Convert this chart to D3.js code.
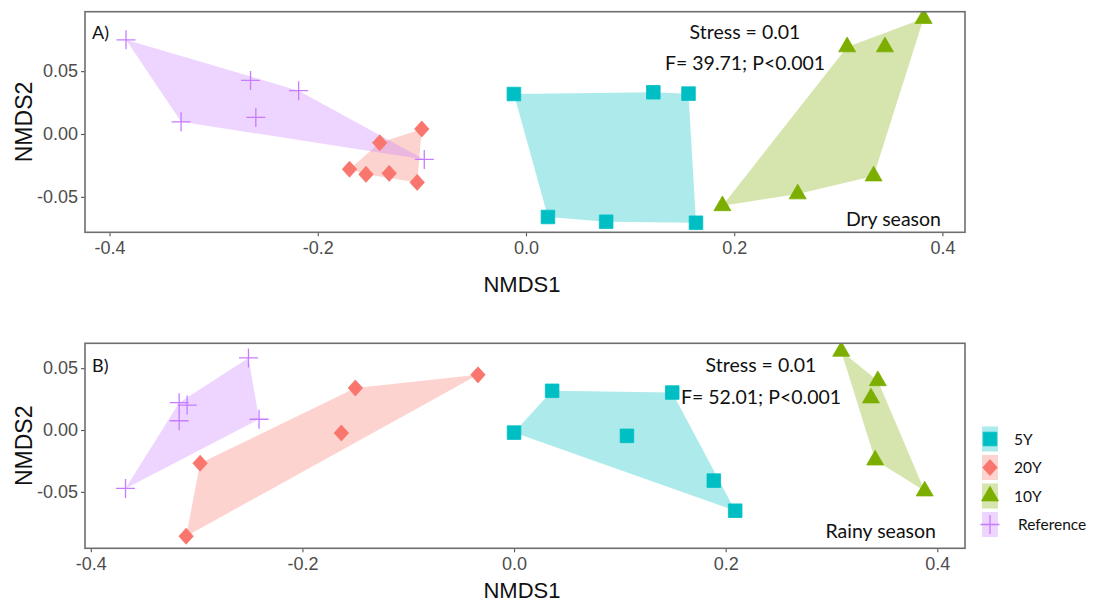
<!DOCTYPE html>
<html>
<head>
<meta charset="utf-8">
<script src="https://cdn.jsdelivr.net/npm/d3@7"></script>
<style>
  body { margin: 0; background: #fff; }
  svg { display: block; }
</style>
</head>
<body>
<svg id="chart" width="1094" height="604"></svg>
<script>
// ---- data -------------------------------------------------------------
const groups = ["5Y", "20Y", "10Y", "Reference"];
const groupColors = ["#00BFC4", "#F8766D", "#7CAE00", "#C77CFF"];
const xTicks = [-0.4, -0.2, 0.0, 0.2, 0.4];
const yTicks = [-0.05, 0.00, 0.05];

// Dry season NMDS scores [NMDS1, NMDS2]
const dry5Y  = [[-0.0116, 0.0318], [0.1223, 0.0332], [0.1561, 0.0321], [0.0211, -0.0660], [0.0770, -0.0698], [0.1633, -0.0706]];
const dry20Y = [[-0.1695, -0.0280], [-0.1537, -0.0321], [-0.1405, -0.0070], [-0.1314, -0.0313], [-0.1045, -0.0385], [-0.1001, 0.0040]];
const dry10Y = [[0.3819, 0.0919], [0.3085, 0.0693], [0.3448, 0.0693], [0.3339, -0.0334], [0.2610, -0.0477], [0.1887, -0.0571]];
const dryRef = [[-0.3842, 0.0749], [-0.3313, 0.0097], [-0.2646, 0.0426], [-0.2595, 0.0132], [-0.2184, 0.0345], [-0.0977, -0.0202]];

// Rainy season NMDS scores [NMDS1, NMDS2]
const rainy5Y  = [[0.0000, -0.0021], [0.0360, 0.0317], [0.1495, 0.0303], [0.1067, -0.0047], [0.1888, -0.0409], [0.2090, -0.0652]];
const rainy20Y = [[-0.0341, 0.0446], [-0.1500, 0.0340], [-0.1632, -0.0024], [-0.2967, -0.0269], [-0.3099, -0.0858]];
const rainy10Y = [[0.3092, 0.0636], [0.3438, 0.0398], [0.3373, 0.0259], [0.3413, -0.0243], [0.3881, -0.0493]];
const rainyRef = [[-0.2510, 0.0583], [-0.3165, 0.0221], [-0.3090, 0.0202], [-0.3165, 0.0075], [-0.2410, 0.0087], [-0.3672, -0.0472]];

const panelTags    = ["A)", "B)"];
const seasonNames  = ["Dry season", "Rainy season"];
const stressTexts  = ["Stress = 0.01", "Stress = 0.01"];
const permTexts    = ["F= 39.71; P<0.001", "F= 52.01; P<0.001"];

// ---- layout -----------------------------------------------------------
const panels = [
  {
    series: [dry5Y, dry20Y, dry10Y, dryRef],
    xDomain: [-0.4236, 0.4217], yDomain: [-0.0782, 0.0973],
    left: 85, right: 965, top: 11.7, bottom: 232.3,
    tagPos: [92, 39], stressPos: [745, 39], permPos: [745, 70], seasonPos: [941, 226],
    xTitleY: 292
  },
  {
    series: [rainy5Y, rainy20Y, rainy10Y, rainyRef],
    xDomain: [-0.4055, 0.4262], yDomain: [-0.0956, 0.0701],
    left: 85, right: 965, top: 343.3, bottom: 548.3,
    tagPos: [92, 372], stressPos: [761, 372], permPos: [761, 404], seasonPos: [936, 538],
    xTitleY: 598
  }
];

const svg = d3.select("#chart");
const tickFont = "'Liberation Sans', Arial, sans-serif";
const noteFont = "Lato, 'Open Sans', sans-serif";

// point glyphs for each group
const symbolFor = [
  d3.symbol().type(d3.symbolSquare).size(185)(),
  d3.symbol().type(d3.symbolDiamond2).size(165)(),
  d3.symbol().type(d3.symbolTriangle).size(125)(),
  "M-9.5,0H9.5M0,-9.5V9.5"
];
const symbolTransform = ["", " scale(0.9,1)", "", ""];

function drawMark(g, i, x, y) {
  const p = g.append("path")
    .attr("d", symbolFor[i])
    .attr("transform", `translate(${x},${y})${symbolTransform[i]}`);
  if (i === 3) {
    p.attr("fill", "none").attr("stroke", groupColors[i]).attr("stroke-width", 1.3);
  } else {
    p.attr("fill", groupColors[i]).attr("stroke", groupColors[i])
      .attr("stroke-width", 0.8).attr("stroke-linejoin", "round");
  }
}

panels.forEach((P, pi) => {
  const x = d3.scaleLinear().domain(P.xDomain).range([P.left, P.right]);
  const y = d3.scaleLinear().domain(P.yDomain).range([P.bottom, P.top]);
  const g = svg.append("g");

  // clip marks to the panel
  const clipId = "clip" + pi;
  svg.append("clipPath").attr("id", clipId)
    .append("rect")
    .attr("x", P.left).attr("y", P.top)
    .attr("width", P.right - P.left).attr("height", P.bottom - P.top);

  const plot = g.append("g").attr("clip-path", `url(#${clipId})`);

  // convex hulls
  P.series.forEach((pts, i) => {
    const hull = d3.polygonHull(pts.map(d => [x(d[0]), y(d[1])]));
    plot.append("path")
      .attr("d", "M" + hull.join("L") + "Z")
      .attr("fill", groupColors[i])
      .attr("fill-opacity", 0.32);
  });

  // points
  P.series.forEach((pts, i) => {
    pts.forEach(d => drawMark(plot, i, x(d[0]), y(d[1])));
  });

  // axes
  const xAxis = g.append("g")
    .attr("transform", `translate(0,${P.bottom})`)
    .call(d3.axisBottom(x).tickValues(xTicks).tickSize(4).tickPadding(5)
      .tickFormat(d => d.toFixed(1)));
  const yAxis = g.append("g")
    .attr("transform", `translate(${P.left},0)`)
    .call(d3.axisLeft(y).tickValues(yTicks).tickSize(4).tickPadding(3)
      .tickFormat(d => d.toFixed(2)));
  [xAxis, yAxis].forEach(a => {
    a.select(".domain").remove();
    a.selectAll(".tick line").attr("stroke", "#555").attr("stroke-width", 1.1);
    a.selectAll(".tick text")
      .attr("fill", "#4d4d4d")
      .style("font-family", tickFont)
      .style("font-size", "18px");
  });

  // panel border
  g.append("rect")
    .attr("x", P.left).attr("y", P.top)
    .attr("width", P.right - P.left).attr("height", P.bottom - P.top)
    .attr("fill", "none").attr("stroke", "#6e6e6e").attr("stroke-width", 1.6);

  // axis titles
  g.append("text")
    .attr("x", (P.left + P.right) / 2 - 3).attr("y", P.xTitleY)
    .attr("text-anchor", "middle")
    .style("font-family", tickFont).style("font-size", "22px")
    .attr("fill", "#111")
    .text("NMDS1");
  g.append("text")
    .attr("transform", `translate(32,${(P.top + P.bottom) / 2}) rotate(-90)`)
    .attr("text-anchor", "middle")
    .style("font-family", tickFont).style("font-size", "23px")
    .attr("fill", "#111")
    .text("NMDS2");

  // annotations
  const note = (pos, txt, anchor) => g.append("text")
    .attr("x", pos[0]).attr("y", pos[1])
    .attr("text-anchor", anchor)
    .style("font-family", noteFont).style("font-size", "19.5px")
    .attr("fill", "#111")
    .text(txt);
  note(P.tagPos, panelTags[pi], "start").style("font-size", "18px");
  note(P.stressPos, stressTexts[pi], "middle");
  note(P.permPos, permTexts[pi], "middle");
  note(P.seasonPos, seasonNames[pi], "end");
});

// ---- legend -----------------------------------------------------------
const legendLabels = ["5Y", "20Y", "10Y", "\u00a0Reference"];
const legend = svg.append("g");
groups.forEach((name, i) => {
  const cy = 439 + i * 28.5;
  legend.append("rect")
    .attr("x", 982).attr("y", cy - 12.5)
    .attr("width", 16).attr("height", 25)
    .attr("fill", groupColors[i]).attr("fill-opacity", 0.32);
  drawMark(legend, i, 990, cy);
  legend.append("text")
    .attr("x", 1014).attr("y", cy + 5.5)
    .style("font-family", noteFont).style("font-size", "15.5px")
    .attr("fill", "#111")
    .text(legendLabels[i]);
});
</script>
</body>
</html>
